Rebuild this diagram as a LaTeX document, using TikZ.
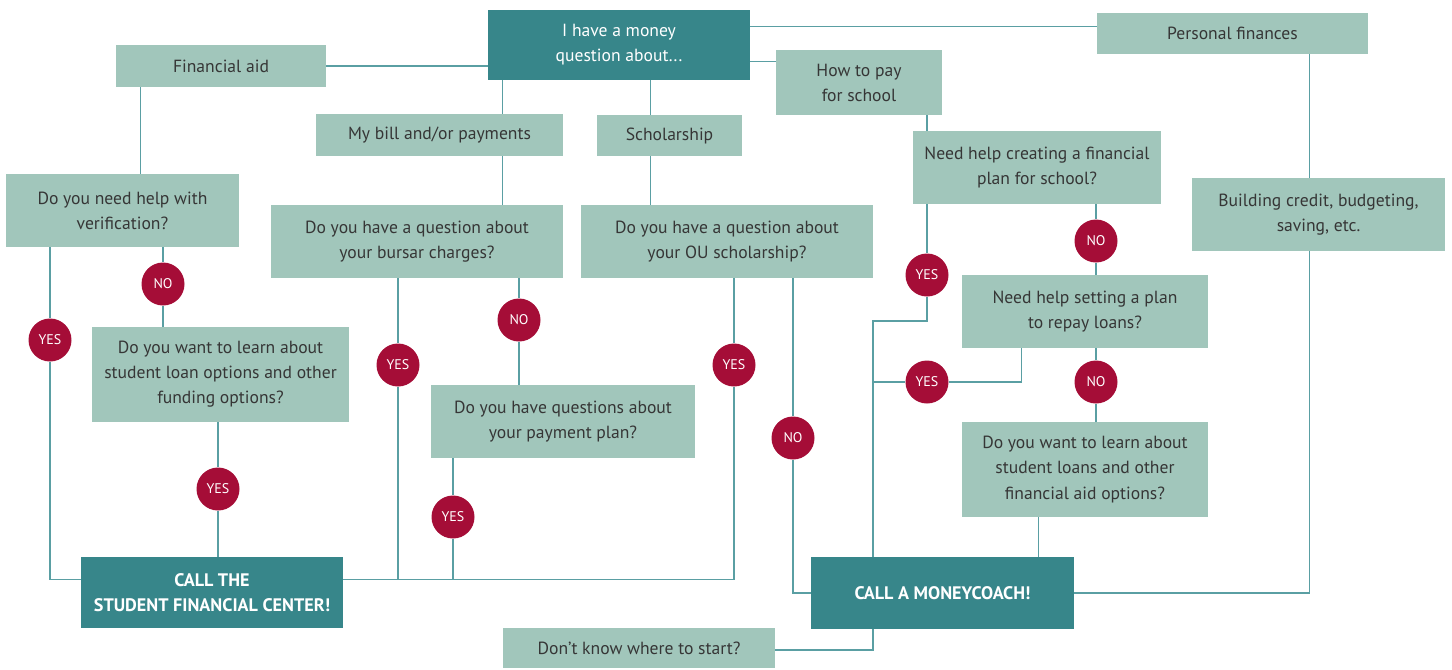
\documentclass[tikz,border=0pt]{standalone}
\usepackage{fontspec}
\setmainfont{PT Sans}
\usepackage{tikz}
\usetikzlibrary{calc}
\definecolor{sage}{HTML}{A1C6BB}
\definecolor{teal}{HTML}{37868A}
\definecolor{crimson}{HTML}{A50D37}
\definecolor{linkcol}{HTML}{5A9FA3}
\definecolor{inkcol}{HTML}{363636}
\def\px{0.75pt}
\tikzset{x=0.75pt,y=-0.75pt}
\tikzset{
  Size/.style 2 args={minimum width=#1*\px, minimum height=#2*\px},
  QBox/.style={fill=sage, text=inkcol, align=center, inner sep=0pt,
    font=\fontsize{13.2}{18.8}\selectfont},
  TopBox/.style={QBox, fill=teal, text=white},
  CallBox/.style={QBox, fill=teal, text=white,
    font=\fontsize{13.6}{18.8}\selectfont\bfseries},
  Ans/.style={circle, fill=crimson, text=white, inner sep=0pt,
    minimum size=43*\px, font=\fontsize{10.5}{12}\selectfont},
  Link/.style={draw=linkcol, line width=1.1pt}
}

\begin{document}
\begin{tikzpicture}

\useasboundingbox (0,0) rectangle (1452,669);

%% First level
\node[TopBox, Size={262}{70}] (money) at (619,45) {I have a money\\question about...};
\node[QBox, Size={210}{42}] (fin) at (221,66) {Financial aid};
\node[QBox, Size={271}{41}] (pers) at (1232.5,33.5) {Personal finances};
\node[QBox, Size={166}{65}] (pay) at (859,82.5) {How to pay\\for school};
\node[QBox, Size={247}{42}] (bill) at (439.5,135) {My bill and/or payments};
\node[QBox, Size={145}{41}] (sch) at (669.5,135.5) {Scholarship};

%% Questions
\node[QBox, Size={233}{73}] (verif) at (122.5,210.5) {Do you need help with\\verification?};
\node[QBox, Size={292}{73}] (bursar) at (417,241.5) {Do you have a question about\\your bursar charges?};
\node[QBox, Size={292}{73}] (ou) at (727,241.5) {Do you have a question about\\your OU scholarship?};
\node[QBox, Size={248}{73}] (plan) at (1037,167.5) {Need help creating a financial\\plan for school?};
\node[QBox, Size={253}{73}] (credit) at (1318.5,214.5) {Building credit, budgeting,\\saving, etc.};
\node[QBox, Size={246}{73}] (repay) at (1085,311.5) {Need help setting a plan\\to repay loans?};
\node[QBox, Size={257}{95}] (learnA) at (220.5,374.5) {Do you want to learn about\\student loan options and other\\funding options?};
\node[QBox, Size={264}{73}] (pplan) at (563,421.5) {Do you have questions about\\your payment plan?};
\node[QBox, Size={246}{95}] (learnB) at (1085,469.5) {Do you want to learn about\\student loans and other\\financial aid options?};

%% Outcomes
\node[CallBox, Size={262}{71}] (sfc) at (212,592.5) {CALL THE\\STUDENT FINANCIAL CENTER!};
\node[CallBox, Size={263}{72}] (mc) at (942.5,593) {CALL A MONEYCOACH!};
\node[QBox, Size={272}{40}] (start) at (639,648) {Don't know where to start?};

%% Answers
\node[Ans] (noA) at (163,284) {NO};
\node[Ans] (yesA) at (50,340) {YES};
\node[Ans] (yesB) at (218,489) {YES};
\node[Ans] (yesC) at (398,365) {YES};
\node[Ans] (noB) at (519,320) {NO};
\node[Ans] (yesD) at (453,517) {YES};
\node[Ans] (yesE) at (734,365) {YES};
\node[Ans] (noC) at (793,438) {NO};
\node[Ans] (yesF) at (927,275) {YES};
\node[Ans] (noD) at (1096,241) {NO};
\node[Ans] (yesG) at (927,382) {YES};
\node[Ans] (noE) at (1096,382) {NO};

%% Junctions
\coordinate (mP) at ([yshift=-17*\px]money.north east);
\coordinate (mH) at ([yshift=-52*\px]money.north east);
\coordinate (mB) at ([xshift=15*\px]money.south west);
\coordinate (mS) at ([xshift=163*\px]money.south west);
\coordinate (fV) at ([xshift=25*\px]fin.south west);
\coordinate (pC) at ([xshift=-59*\px]pers.south east);
\coordinate (sL) at ([yshift=-23*\px]sfc.north west);
\coordinate (sR) at ([yshift=-23*\px]sfc.north east);
\coordinate (rY) at ([xshift=60*\px]repay.south west);
\coordinate (lM) at ([xshift=77*\px]learnB.south west);
\coordinate (jY) at (873,321);
\coordinate (jS) at (873,650);

%% First level links
\draw[Link] (money.west |- fin) -- (fin.east);
\draw[Link] (mP) -- (mP -| pers.west);
\draw[Link] (mH) -- (mH -| pay.west);
\draw[Link] (mB) -- (mB |- bill.north)  (mB |- bill.south) -- (mB |- bursar.north);
\draw[Link] (mS) -- (mS |- sch.north)  (mS |- sch.south) -- (mS |- ou.north);
\draw[Link] (fV) -- (fV |- verif.north);
\draw[Link] (pay.south -| yesF) -- (plan.north -| yesF);
\draw[Link] (pC) -- (pC |- credit.north)  (pC |- credit.south) -- (pC |- mc) -- (mc.east);

%% Student financial center
\draw[Link] (verif.south -| yesA) -- (yesA) -- (yesA |- sL) -- (sL);
\draw[Link] (verif.south -| noA) -- (noA) -- (learnA.north -| noA);
\draw[Link] (learnA.south -| yesB) -- (yesB) -- (sfc.north -| yesB);
\draw[Link] (bursar.south -| yesC) -- (yesC) -- (yesC |- sR);
\draw[Link] (bursar.south -| noB) -- (noB) -- (pplan.north -| noB);
\draw[Link] (pplan.south -| yesD) -- (yesD) -- (yesD |- sR);
\draw[Link] (ou.south -| yesE) -- (yesE) -- (yesE |- sR) -- (sR);

%% Moneycoach
\draw[Link] (ou.south -| noC) -- (noC) -- (noC |- mc) -- (mc.west);
\draw[Link] (plan.south -| yesF) -- (yesF) -- (yesF |- jY) -- (jY) -- (jY |- mc.north);
\draw[Link] (plan.south -| noD) -- (noD) -- (repay.north -| noD);
\draw[Link] (rY) -- (rY |- yesG) -- (yesG) -- (yesG -| jY);
\draw[Link] (repay.south -| noE) -- (noE) -- (learnB.north -| noE);
\draw[Link] (lM) -- (lM |- mc.north);
\draw[Link] (mc.south -| jY) -- (jS) -- (jS -| start.east);

\end{tikzpicture}
\end{document}
